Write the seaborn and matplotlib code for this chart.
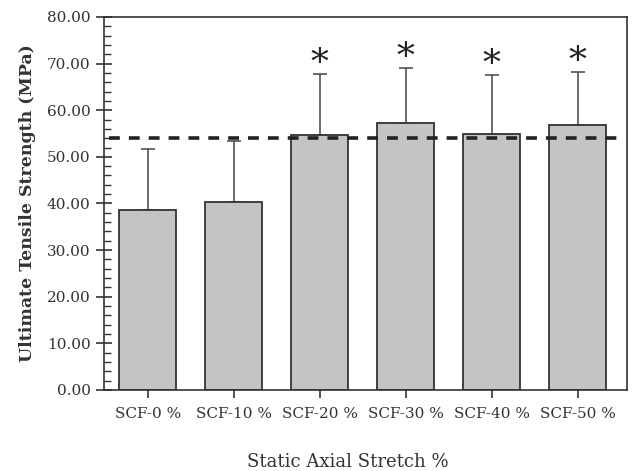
import numpy as np
import pandas as pd
import matplotlib
matplotlib.use("Agg")
import matplotlib.pyplot as plt
from matplotlib.ticker import MultipleLocator, FormatStrFormatter
import seaborn as sns

# values
groups = ["SCF-0 %", "SCF-10 %", "SCF-20 %", "SCF-30 %", "SCF-40 %", "SCF-50 %"]
means = [38.5, 40.3, 54.6, 57.2, 54.9, 56.9]
sd_upper = [13.2, 13.2, 13.2, 11.9, 12.6, 11.2]
significant = [False, False, True, True, True, True]
control_line = 54.1

df = pd.DataFrame({"group": groups, "uts": means})

sns.set_theme(style="ticks")
plt.rcParams["font.family"] = ["DejaVu Serif"]

fig, ax = plt.subplots(figsize=(6.41, 4.71), dpi=100)
fig.subplots_adjust(left=0.162, right=0.978, top=0.964, bottom=0.172)

sns.barplot(data=df, x="group", y="uts", color="#c4c4c4", saturation=1,
            edgecolor="#333333", linewidth=1.3, width=0.66, ax=ax, zorder=2)

x = np.arange(len(groups))
ax.errorbar(x, df["uts"], yerr=[np.zeros(len(groups)), sd_upper], fmt="none",
            ecolor="#444444", elinewidth=1.1, capsize=5, capthick=1.1, zorder=1)

ax.axhline(control_line, color="#222222", linestyle=(0, (3, 2.5)), linewidth=2.6, zorder=3,
           xmin=0.01, xmax=0.985)

for xi, m, s, sig in zip(x, means, sd_upper, significant):
    if sig:
        ax.text(xi, m + s - 1.5, "*", ha="center", va="bottom", fontsize=26, color="#222222")

ax.set_xlim(-0.51, 5.57)
ax.set_ylim(0, 80)
ax.yaxis.set_major_locator(MultipleLocator(10))
ax.yaxis.set_minor_locator(MultipleLocator(2))
ax.yaxis.set_major_formatter(FormatStrFormatter("%.2f"))
ax.tick_params(axis="y", which="major", direction="inout", length=12, width=1.2, labelsize=11, colors="#333333")
ax.tick_params(axis="y", which="minor", direction="in", length=5, width=1.0, colors="#333333")
ax.tick_params(axis="x", direction="out", length=6, width=1.2, labelsize=11, colors="#333333", pad=6)
for lab in ax.get_yticklabels() + ax.get_xticklabels():
    lab.set_color("#333333")

for side in ["top", "right", "left", "bottom"]:
    ax.spines[side].set_visible(True)
    ax.spines[side].set_color("#333333")
    ax.spines[side].set_linewidth(1.2)

ax.set_xlabel("Static Axial Stretch %", fontsize=13, color="#333333")
ax.xaxis.set_label_coords(0.467, -0.17)
ax.set_ylabel("Ultimate Tensile Strength (MPa)", fontsize=12.5, fontweight="bold",
              color="#333333", labelpad=8)

fig.savefig("out.png", dpi=100)
